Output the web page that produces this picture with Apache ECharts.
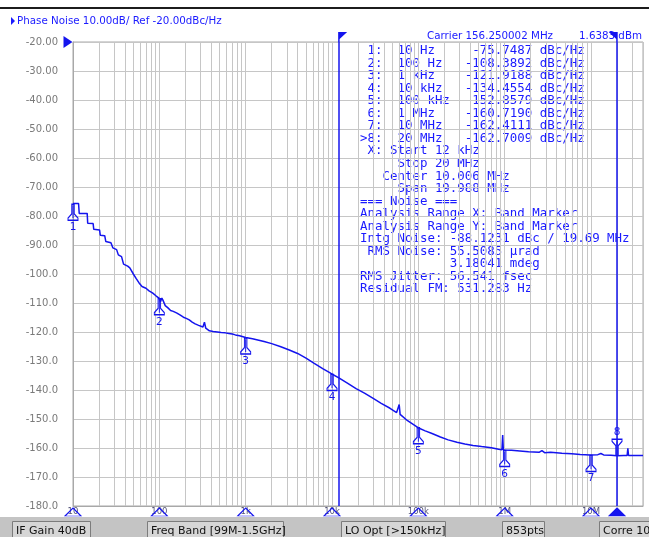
<!DOCTYPE html>
<html><head><meta charset="utf-8">
<script src="https://cdn.jsdelivr.net/npm/echarts@6/dist/echarts.min.js"></script>
<style>html,body{margin:0;padding:0;background:#fff}#c{width:649px;height:537px}</style>
</head><body><div id="c"></div>
<script>
// ---- data ----
const traceFreq = [10, 11.6, 11.8, 14.6, 14.8, 17.1, 17.4, 20.3, 20.7, 23.3, 24, 27.5, 29, 32, 33.5, 36.5, 38.5, 43, 45.5, 50, 54, 58, 63, 70, 76, 84, 92, 100, 103, 107, 110, 117, 125, 135, 145, 152, 160, 175, 190, 205, 222, 240, 260, 285, 320, 333, 345, 380, 420, 470, 520, 580, 640, 700, 760, 850, 1000, 1200, 1633, 2000, 2553, 3200, 3992, 5000, 6223, 7800, 9730, 12000, 15230, 19000, 23770, 30000, 37150, 47000, 56000, 58500, 60000, 61500, 75000, 99300, 120000, 141700, 180000, 221500, 280000, 345400, 430000, 540000, 700000, 850000, 930000, 948000, 965000, 1.2e6, 1.5e6, 1.89e6, 2.5e6, 2.7e6, 2.9e6, 3.4e6, 4.6e6, 6e6, 7.5e6, 9.73e6, 12e6, 13e6, 14e6, 17e6, 20e6, 21e6, 24e6, 26.2e6, 26.7e6, 27.2e6, 33e6, 40e6];
const traceDb = [-75.7, -75.7, -79.1, -79.1, -82.5, -82.6, -84.6, -84.8, -86.6, -86.8, -88.8, -89.2, -91.0, -91.6, -93.4, -94.0, -96.6, -97.3, -97.9, -100.0, -101.6, -103.0, -104.3, -104.9, -105.8, -106.6, -107.6, -108.4, -109.6, -108.3, -109.0, -110.9, -111.6, -112.6, -112.9, -112.4, -113.5, -114.2, -114.9, -115.3, -115.8, -116.6, -117.2, -117.7, -118.3, -116.6, -118.7, -119.6, -119.8, -120.0, -120.2, -120.3, -120.5, -120.7, -121.0, -121.3, -121.9, -122.3, -123.3, -124.0, -125.1, -126.2, -127.4, -129.0, -130.8, -132.6, -134.3, -135.8, -137.7, -139.5, -141.1, -142.9, -144.6, -146.3, -147.8, -148.3, -145.0, -148.4, -150.6, -153.0, -154.1, -154.9, -156.2, -157.2, -158.0, -158.6, -159.1, -159.5, -159.9, -160.4, -160.6, -155.5, -160.7, -160.8, -161.0, -161.3, -161.5, -160.9, -161.6, -161.5, -161.8, -162.0, -162.2, -162.4, -162.3, -161.9, -162.4, -162.5, -162.7, -162.4, -162.6, -162.6, -160.1, -162.6, -162.6, -162.6];

const markerFreq = [10, 100, 1000, 1e4, 1e5, 1e6, 1e7, 2e7];
const markerDb = [-75.7487, -108.3892, -121.9188, -134.4554, -152.8579, -160.7190, -162.4111, -162.7009];
const markerFreqLabel = ['10 Hz', '100 Hz', '1 kHz', '10 kHz', '100 kHz', '1 MHz', '10 MHz', '20 MHz'];

const xTickValues = [10, 100, 1e3, 1e4, 1e5, 1e6, 1e7];
const xTickLabels = ['10', '100', '1k', '10k', '100k', '1M', '10M'];
const xMin = 10, xMax = 4e7;
const yMin = -180, yMax = -20, yStep = 10;

const bandStart = 12000, bandStop = 2e7;

const infoLines = [
  ' X: Start 12 kHz',
  '     Stop 20 MHz',
  '   Center 10.006 MHz',
  '     Span 19.988 MHz',
  '=== Noise ===',
  'Analysis Range X: Band Marker',
  'Analysis Range Y: Band Marker',
  'Intg Noise: -88.1231 dBc / 19.69 MHz',
  ' RMS Noise: 55.5085 \u00b5rad',
  '            3.18041 mdeg',
  'RMS Jitter: 56.541 fsec',
  'Residual FM: 531.283 Hz'
];
const statusItems = [
  {x0: 12, x1: 90, t: 'IF Gain 40dB'},
  {x0: 147, x1: 283, t: 'Freq Band [99M-1.5GHz]'},
  {x0: 341, x1: 445, t: 'LO Opt [>150kHz]'},
  {x0: 502, x1: 544, t: '853pts'},
  {x0: 599, x1: 665, t: 'Corre 10'}
];

// ---- build ----
const BLUE = '#1414ee';
const TXT = '#1a1aff';
const GRID = '#c6c6c6';
const traceData = traceFreq.map((f, i) => [f, traceDb[i]]);

const minorGrid = [];
for (let d = 10; d < xMax; d *= 10) {
  for (let k = 2; k <= 9; k++) { if (k * d < xMax) minorGrid.push({xAxis: k * d}); }
}

function tickLabel(v) {
  const e = Math.log10(v);
  if (Math.abs(e - Math.round(e)) > 1e-6) return '';
  const idx = xTickValues.findIndex(t => Math.abs(Math.log10(t) - e) < 1e-6);
  return idx >= 0 ? xTickLabels[idx] : '';
}

const markerShape = 'path://M3.5,0 L5.5,0 L5.5,9 L8.5,13 L8.5,15 L0.5,15 L0.5,13 L3.5,9 Z M4.5,1 L4.5,13';
const markerPoints = markerFreq.map((f, i) => {
  const active = i === markerFreq.length - 1;
  return {
    coord: [f, markerDb[i]],
    symbol: markerShape,
    symbolSize: [10, 16],
    symbolRotate: active ? 180 : 0,
    symbolOffset: active ? [0, -8.5] : [0, 8.5],
    itemStyle: {color: 'rgba(255,255,255,0)', borderColor: BLUE, borderWidth: 1.2},
    label: {show: true, formatter: String(i + 1), position: active ? 'top' : 'bottom', distance: 1,
            color: BLUE, fontSize: 10.5, fontFamily: 'DejaVu Sans'}
  };
});
const axisTriangles = markerFreq.map((f, i) => {
  const active = i === markerFreq.length - 1;
  return {
    coord: [f, yMin],
    symbol: 'triangle',
    symbolSize: [16, 8],
    symbolOffset: [0, 6],
    itemStyle: active ? {color: BLUE, borderColor: BLUE, borderWidth: 1}
                      : {color: 'rgba(255,255,255,0)', borderColor: BLUE, borderWidth: 1},
    label: {show: false}
  };
});
const extraPoints = [
  {coord: [xMin, yMax], symbol: 'path://M0,0 L10,6 L0,12 Z', symbolSize: [9, 12], symbolOffset: [-5, 0],
   itemStyle: {color: BLUE}, label: {show: false}},
  {coord: [bandStart, yMax], symbol: 'path://M0,0 L9,0 L1.5,7 L1.5,10 L0,10 Z', symbolSize: [9, 10],
   symbolOffset: [3.8, -5], itemStyle: {color: BLUE}, label: {show: false}},
  {coord: [bandStop, yMax], symbol: 'path://M0,0 L9,0 L9,10 L7.5,10 L7.5,7 Z', symbolSize: [9, 10],
   symbolOffset: [-3.8, -5], itemStyle: {color: BLUE}, label: {show: false}}
];

// graphic elements
const graphics = [];
graphics.push({type: 'rect', shape: {x: 0, y: 7, width: 649, height: 2}, style: {fill: '#1c1c1c'}, silent: true});
graphics.push({type: 'polygon', shape: {points: [[11, 17], [15, 21], [11, 25]]}, style: {fill: TXT}, silent: true});
graphics.push({type: 'text', x: 17, y: 21.5, silent: true,
  style: {text: 'Phase Noise 10.00dB/ Ref -20.00dBc/Hz', fill: TXT, font: '10.3px "DejaVu Sans"',
          align: 'left', verticalAlign: 'middle', textAlign: 'left', textVerticalAlign: 'middle'}});
graphics.push({type: 'text', x: 427, y: 36.5, silent: true,
  style: {text: 'Carrier 156.250002 MHz', fill: TXT, font: '10.3px "DejaVu Sans"',
          align: 'left', verticalAlign: 'middle', textAlign: 'left', textVerticalAlign: 'middle'}});
graphics.push({type: 'text', x: 642, y: 36.5, silent: true,
  style: {text: '1.6383 dBm', fill: TXT, font: '10.3px "DejaVu Sans"',
          align: 'right', verticalAlign: 'middle', textAlign: 'right', textVerticalAlign: 'middle'}});

const tableLines = markerFreq.map((f, i) => {
  const prefix = (i === markerFreq.length - 1 ? '>' : ' ') + (i + 1) + ':';
  let s = prefix + '  ' + markerFreqLabel[i];
  const val = markerDb[i].toFixed(4);
  while (s.length < 23 - val.length) s += ' ';
  return s + val + ' dBc/Hz';
}).concat(infoLines);
tableLines.forEach((t, i) => {
  graphics.push({type: 'text', x: 360, y: 50.8 + 12.55 * i, silent: true,
    style: {text: t, fill: TXT, font: '12.45px "DejaVu Sans Mono"',
            align: 'left', verticalAlign: 'middle', textAlign: 'left', textVerticalAlign: 'middle'}});
});

graphics.push({type: 'rect', shape: {x: 0, y: 517, width: 649, height: 20}, style: {fill: '#c4c4c4'}, silent: true});
statusItems.forEach(it => {
  graphics.push({type: 'rect', shape: {x: it.x0 + 0.5, y: 521.5, width: it.x1 - it.x0, height: 20},
    style: {fill: '#d6d6d6', stroke: '#7c7c7c', lineWidth: 1}, silent: true});
  graphics.push({type: 'text', x: it.x0 + 4, y: 531.5, silent: true,
    style: {text: it.t, fill: '#111', font: '11px "DejaVu Sans"',
            align: 'left', verticalAlign: 'middle', textAlign: 'left', textVerticalAlign: 'middle'}});
});

const chart = echarts.init(document.getElementById('c'), null, {renderer: 'canvas'});
chart.setOption({
  animation: false,
  backgroundColor: '#ffffff',
  grid: {left: 73, right: 6, top: 42, bottom: 31, containLabel: false, show: true,
         borderColor: '#a8a8a8', borderWidth: 1, backgroundColor: 'transparent'},
  xAxis: {
    type: 'log', logBase: 10, min: xMin, max: xMax,
    axisLine: {show: true, lineStyle: {color: '#a8a8a8'}},
    axisTick: {show: false},
    splitLine: {show: true, lineStyle: {color: GRID, width: 1}},
    axisLabel: {show: true, formatter: tickLabel, color: '#55557a', fontSize: 8.5,
                fontFamily: 'DejaVu Sans', margin: 1, showMaxLabel: false}
  },
  yAxis: {
    type: 'value', min: yMin, max: yMax, interval: yStep,
    axisLine: {show: true, lineStyle: {color: '#a8a8a8'}},
    axisTick: {show: false},
    splitLine: {show: true, lineStyle: {color: GRID, width: 1}},
    axisLabel: {formatter: v => (v > -100 ? v.toFixed(2) : v.toFixed(1)), color: '#7a7a7a',
                fontSize: 10, fontFamily: 'DejaVu Sans', margin: 15}
  },
  graphic: graphics,
  series: [
    {
      type: 'line', data: traceData, showSymbol: false, silent: true, z: 1,
      lineStyle: {opacity: 0, width: 0},
      markLine: {silent: true, symbol: ['none', 'none'], label: {show: false},
                 lineStyle: {color: GRID, width: 1, type: 'solid'}, data: minorGrid, z: 1}
    },
    {
      type: 'line', data: traceData, showSymbol: false, silent: true, z: 3,
      lineStyle: {color: BLUE, width: 1.5},
      markLine: {silent: true, symbol: ['none', 'none'], label: {show: false},
                 lineStyle: {color: BLUE, width: 1.5, type: 'solid'},
                 data: [{xAxis: bandStart}, {xAxis: bandStop}]},
      markPoint: {silent: true, data: markerPoints.concat(axisTriangles, extraPoints)}
    }
  ]
});
</script></body></html>
